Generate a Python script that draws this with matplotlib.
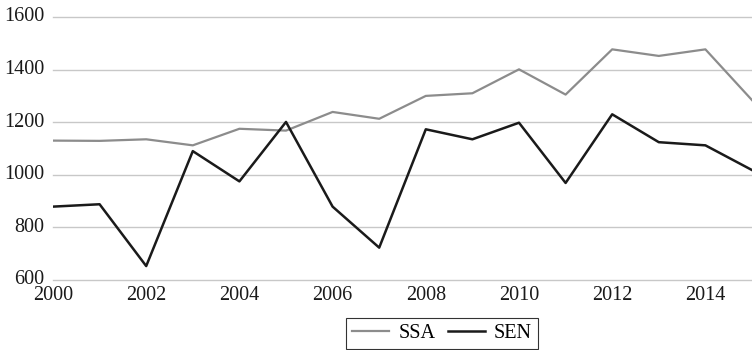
import matplotlib
matplotlib.use("Agg")
import matplotlib.pyplot as plt

years = list(range(2000, 2016))
ssa = [1130, 1129, 1135, 1112, 1175, 1168, 1239, 1213, 1300, 1310, 1401, 1305, 1477, 1452, 1477, 1284]
sen = [879, 888, 653, 1090, 975, 1201, 879, 723, 1173, 1135, 1198, 969, 1230, 1124, 1112, 1018]
yticks = [600, 800, 1000, 1200, 1400, 1600]
xticks = [2000, 2002, 2004, 2006, 2008, 2010, 2012, 2014]

plt.rcParams['font.family'] = ['Liberation Serif', 'DejaVu Serif']
fig = plt.figure(figsize=(7.52, 3.5), dpi=100)
ax = fig.add_axes([53/752, 70/350, 1 - 53/752, 263/350])

ax.plot(years, ssa, color='#8c8c8c', lw=1.6, label='SSA', zorder=3)
ax.plot(years, sen, color='#1a1a1a', lw=1.8, label='SEN', zorder=3)

ax.set_xlim(2000, 2015)
ax.set_ylim(600, 1600)
ax.set_yticks(yticks)
ax.set_xticks(xticks)
ax.grid(axis='y', color='#c8c8c8', lw=1.0)
for gl in ax.yaxis.get_gridlines():
    gl.set_clip_on(False)
ax.set_axisbelow(True)
for s in ax.spines.values():
    s.set_visible(False)
ax.tick_params(length=0, labelsize=14.5, colors='#1a1a1a')
ax.tick_params(axis='y', pad=6)
ax.tick_params(axis='x', pad=4.5)
for lbl in ax.get_yticklabels():
    lbl.set_va('center')

leg = fig.legend(loc='center', bbox_to_anchor=(442/752, (350-333.5)/350), ncol=2,
                 frameon=True, fancybox=False, edgecolor='black', fontsize=14.5,
                 handlelength=1.85, columnspacing=0.6, handletextpad=0.45,
                 borderpad=0.3, borderaxespad=0)
leg.get_frame().set_linewidth(0.8)

fig.savefig('out.png', dpi=100)
